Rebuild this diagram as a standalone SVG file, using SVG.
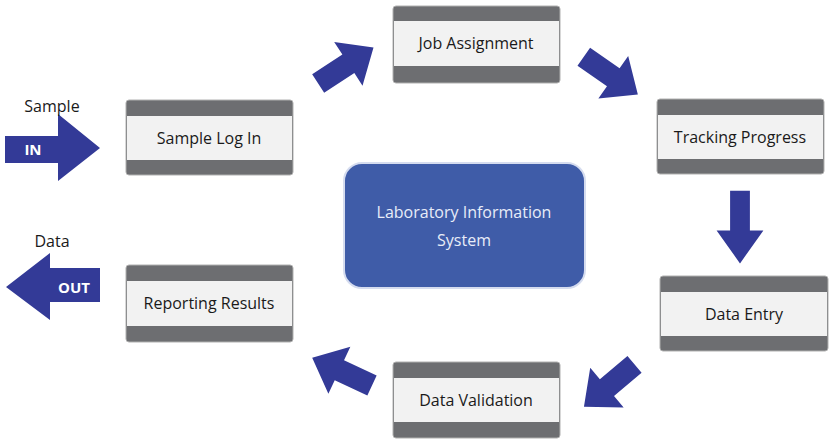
<svg xmlns="http://www.w3.org/2000/svg" width="831" height="444" viewBox="0 0 831 444">
<style>
.box{fill:#6d6e71;stroke:#b0b0b0;stroke-width:1}
.band{fill:#f2f2f2}
.t{font-family:"Open Sans","Liberation Sans",sans-serif;font-size:16px;fill:#1a1a1a;text-anchor:middle}
.arr{fill:#333a97}
.w{font-family:"Open Sans","Liberation Sans",sans-serif;font-size:15px;font-weight:bold;fill:#fff;text-anchor:middle}
</style>
<defs>
<path id="a" d="M-32,-11 H4 V-26 L34,0 L4,26 V11 H-32Z"/>
</defs>
<g id="connectors">
<path class="arr" d="M5,136 H58 V114 L100,148 L58,181 V163 H5Z"/>
<text class="w" x="33" y="155">IN</text>
<path class="arr" d="M100,268 H50 V253 L6,287 L50,320 V302 H100Z"/>
<text class="w" x="74" y="293">OUT</text>
<use href="#a" class="arr" transform="translate(345,66) rotate(-33)"/>
<use href="#a" class="arr" transform="translate(610,75) rotate(35)"/>
<use href="#a" class="arr" transform="translate(740,226) rotate(90) scale(1.1,0.9)"/>
<use href="#a" class="arr" transform="translate(610,385) rotate(140)"/>
<use href="#a" class="arr" transform="translate(343,372) rotate(205)"/>
</g>
<text class="t" x="52" y="112">Sample</text>
<text class="t" x="52" y="247">Data</text>
<g id="login"><rect class="box" x="126" y="100" width="167" height="75" rx="3"/><rect class="band" x="127" y="116" width="165" height="44"/><text class="t" x="209" y="144">Sample Log In</text></g>
<g id="job"><rect class="box" x="393" y="6" width="167" height="77" rx="3"/><rect class="band" x="394" y="21" width="165" height="45"/><text class="t" x="476" y="49">Job Assignment</text></g>
<g id="track"><rect class="box" x="657" y="99" width="167" height="75" rx="3"/><rect class="band" x="658" y="115" width="165" height="44"/><text class="t" x="740" y="143">Tracking Progress</text></g>
<g id="entry"><rect class="box" x="660" y="276" width="168" height="75" rx="3"/><rect class="band" x="661" y="292" width="166" height="44"/><text class="t" x="744" y="320">Data Entry</text></g>
<g id="valid"><rect class="box" x="393" y="362" width="167" height="76" rx="3"/><rect class="band" x="394" y="378" width="165" height="44"/><text class="t" x="476" y="406">Data Validation</text></g>
<g id="report"><rect class="box" x="126" y="265" width="167" height="77" rx="3"/><rect class="band" x="127" y="281" width="165" height="45"/><text class="t" x="209" y="309">Reporting Results</text></g>
<g id="lis"><rect x="344" y="163" width="241" height="125" rx="18" fill="#3f5ca8" stroke="#d5dcef" stroke-width="2"/>
<text class="t" x="464" y="218" style="fill:#e8ecf8">Laboratory Information</text>
<text class="t" x="464" y="246" style="fill:#e8ecf8">System</text></g>
</svg>
